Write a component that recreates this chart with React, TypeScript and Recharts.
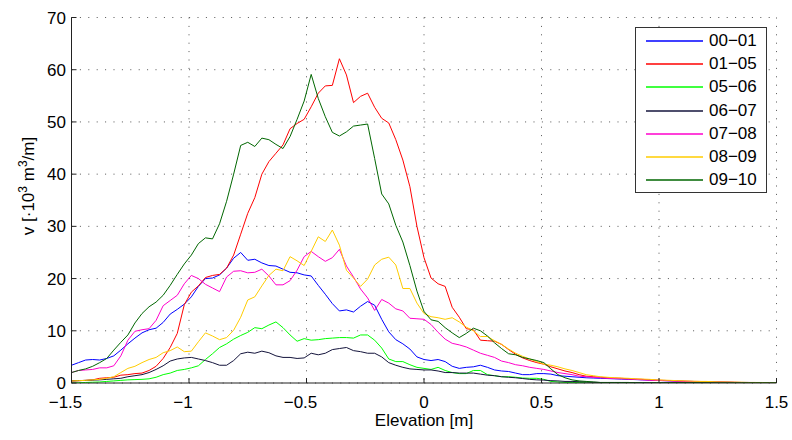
import React from 'react';
import { LineChart, Line, XAxis, YAxis, CartesianGrid, Legend } from 'recharts';

const FONT = '"Liberation Sans", Arial, Helvetica, sans-serif';

const elevation = [
  -1.5, -1.47, -1.44, -1.41, -1.38, -1.35, -1.32, -1.29, -1.26, -1.23,
  -1.2, -1.17, -1.14, -1.11, -1.08, -1.05, -1.02, -0.99, -0.96, -0.93,
  -0.9, -0.87, -0.84, -0.81, -0.78, -0.75, -0.72, -0.69, -0.66, -0.63,
  -0.6, -0.57, -0.54, -0.51, -0.48, -0.45, -0.42, -0.39, -0.36, -0.33,
  -0.3, -0.27, -0.24, -0.21, -0.18, -0.15, -0.12, -0.09, -0.06, -0.03,
  0, 0.03, 0.06, 0.09, 0.12, 0.15, 0.18, 0.21, 0.24, 0.27,
  0.3, 0.33, 0.36, 0.39, 0.42, 0.45, 0.48, 0.51, 0.54, 0.57,
  0.6, 0.63, 0.66, 0.69, 0.72, 0.75, 0.78, 0.81, 0.84, 0.87,
  0.9, 0.93, 0.96, 0.99, 1.02, 1.05, 1.08, 1.11, 1.14, 1.17,
  1.2, 1.23, 1.26, 1.29, 1.32, 1.35, 1.38, 1.41, 1.44, 1.47,
  1.5,
];

const v0001 = [
  3.4, 3.9, 4.4, 4.5, 4.4, 4.7, 5.2, 6.3, 7.5, 8.6,
  9.6, 10.2, 10.5, 11.6, 13.2, 14.1, 15.1, 16.5, 18.5, 20.0,
  20.1, 20.7, 22.0, 23.9, 25.0, 23.5, 23.7, 23.0, 22.5, 22.4,
  21.8, 21.2, 21.1, 20.7, 20.5, 18.7, 17.0, 15.2, 13.8, 14.0,
  13.6, 14.7, 15.6, 14.9, 12.2, 9.8, 8.3, 7.5, 6.5, 5.0,
  4.5, 4.3, 4.5, 4.1, 3.2, 2.8, 3.0, 3.1, 3.4, 3.0,
  2.5, 2.3, 2.2, 1.9, 1.6, 1.6, 1.8, 1.8, 1.7, 1.4,
  1.3, 1.2, 1.1, 1.0, 0.95, 0.9, 0.85, 0.8, 0.75, 0.7,
  0.65, 0.6, 0.55, 0.5, 0.45, 0.4, 0.35, 0.3, 0.3, 0.25,
  0.2, 0.2, 0.15, 0.15, 0.1, 0.1, 0.1, 0.05, 0.05, 0.05,
  0.05,
];

const v0105 = [
  0.4, 0.45, 0.5, 0.6, 0.9, 1.0, 1.1, 1.5, 1.6, 1.8,
  1.9, 2.4, 3.2, 4.7, 6.8, 9.5, 15.0, 17.4, 18.6, 20.2,
  20.6, 20.8, 22.0, 24.5, 28.5, 32.5, 35.5, 40.0, 42.4, 44.0,
  45.6, 48.7, 49.7, 50.5, 52.9, 55.5, 56.9, 57.0, 62.1, 59.0,
  53.7, 54.9, 55.5, 52.8, 50.7, 49.8, 46.6, 42.7, 37.6, 30.0,
  24.0, 20.1, 19.0, 18.5, 14.5, 12.6, 10.4, 10.2, 8.2, 8.1,
  8.0, 7.4, 6.4, 5.5, 4.8, 4.3, 3.9, 3.6, 3.1, 2.7,
  2.3, 2.0, 1.6, 1.3, 1.2, 1.1, 1.0, 0.95, 0.9, 0.8,
  0.75, 0.7, 0.6, 0.55, 0.5, 0.45, 0.4, 0.35, 0.3, 0.3,
  0.25, 0.2, 0.2, 0.15, 0.15, 0.1, 0.1, 0.1, 0.05, 0.05,
  0.05,
];

const v0506 = [
  0.0, 0.05, 0.1, 0.15, 0.2, 0.3, 0.4, 0.5, 0.6, 0.65,
  0.7, 0.8, 1.1, 1.6, 1.9, 2.4, 2.6, 2.9, 3.3, 4.5,
  5.6, 6.8, 7.5, 8.4, 9.1, 9.7, 10.6, 10.4, 11.1, 11.7,
  10.6, 9.2, 8.0, 8.5, 8.2, 8.3, 8.5, 8.6, 8.7, 8.7,
  8.6, 9.2, 9.2, 8.2, 6.7, 4.6, 4.1, 4.1, 3.5, 3.0,
  2.8, 2.6, 3.0, 2.4, 2.0, 1.8, 1.8, 2.4, 2.4, 1.6,
  1.4, 1.2, 1.2, 1.1, 0.95, 0.9, 0.9, 0.7, 0.3, 0.2,
  0.1, 0.1, 0.1, 0.05, 0.05, 0.05, 0.05, 0.05, 0.05, 0.05,
  0.05, 0.05, 0.05, 0.05, 0.05, 0.05, 0.05, 0.05, 0.05, 0.05,
  0.05, 0.05, 0.05, 0.05, 0.05, 0, 0, 0, 0, 0,
  0,
];

const v0607 = [
  0.4, 0.45, 0.5, 0.55, 0.6, 0.7, 0.8, 0.9, 1.2, 1.4,
  1.6, 2.0, 2.6, 3.3, 4.2, 4.6, 4.8, 4.9, 4.6, 4.3,
  3.9, 3.4, 3.4, 4.3, 5.6, 5.9, 5.7, 6.1, 5.8, 5.2,
  4.9, 4.9, 4.7, 4.8, 5.7, 5.4, 5.7, 6.4, 6.6, 6.8,
  6.2, 6.0, 5.7, 5.7, 5.0, 3.9, 3.4, 3.0, 2.7, 2.6,
  2.5, 2.5, 2.3, 2.0, 2.0, 1.9, 1.9, 1.9, 1.7, 1.5,
  1.4, 1.2, 1.1, 1.0, 0.85, 0.7, 0.6, 0.55, 0.45, 0.4,
  0.3, 0.3, 0.25, 0.2, 0.15, 0.1, 0.1, 0.1, 0.1, 0.1,
  0.05, 0.05, 0.05, 0.05, 0.05, 0.05, 0.05, 0.05, 0.05, 0.05,
  0.05, 0.05, 0.05, 0.05, 0.05, 0.05, 0.05, 0.05, 0.05, 0.05,
  0.05,
];

const v0708 = [
  2.0, 2.4, 2.5, 2.6, 2.9, 2.9, 3.3, 5.2, 8.2, 9.9,
  10.2, 10.4, 12.0, 14.8, 15.8, 16.8, 19.0, 20.6, 20.0, 18.9,
  18.2, 17.5, 20.3, 21.4, 21.5, 21.1, 21.2, 21.8, 20.5, 18.8,
  18.8, 19.6, 21.6, 24.2, 25.2, 24.2, 23.3, 24.0, 25.6, 22.4,
  20.3, 18.0, 16.3, 13.9, 16.0, 15.3, 14.2, 13.8, 12.4, 12.3,
  12.2, 11.2, 9.7, 8.4, 7.6, 7.3, 6.9, 6.3, 5.7, 5.3,
  4.9, 4.2, 3.9, 3.5, 3.3, 3.0, 2.8, 2.6, 2.3, 2.0,
  1.8, 1.6, 1.3, 1.2, 1.1, 1.0, 0.9, 0.85, 0.8, 0.75,
  0.7, 0.6, 0.55, 0.5, 0.45, 0.4, 0.35, 0.3, 0.3, 0.25,
  0.2, 0.2, 0.15, 0.15, 0.1, 0.1, 0.1, 0.05, 0.05, 0.05,
  0.05,
];

const v0809 = [
  0.4, 0.45, 0.5, 0.6, 0.7, 0.9, 1.2, 2.0, 2.8, 3.2,
  3.9, 4.5, 4.9, 5.8, 6.2, 6.9, 6.0, 6.1, 7.9, 9.6,
  9.0, 8.3, 8.7, 10.1, 12.6, 15.9, 16.5, 18.6, 20.6, 21.8,
  21.5, 24.2, 23.4, 22.5, 25.2, 28.0, 27.1, 29.3, 26.4, 21.6,
  20.1, 18.5, 19.9, 22.6, 23.7, 24.1, 22.6, 18.1, 18.1, 15.3,
  13.3, 12.7, 12.5, 12.2, 12.5, 11.7, 10.7, 10.0, 8.9, 8.9,
  8.1, 7.4, 6.5, 5.7, 5.1, 4.6, 4.1, 3.6, 3.4, 3.1,
  2.7, 2.4, 2.0, 1.6, 1.4, 1.2, 1.1, 1.0, 0.95, 0.9,
  0.8, 0.75, 0.7, 0.6, 0.55, 0.5, 0.45, 0.4, 0.35, 0.3,
  0.3, 0.25, 0.2, 0.2, 0.15, 0.15, 0.1, 0.1, 0.1, 0.05,
  0.05,
];

const v0910 = [
  2.0, 2.4, 2.7, 3.2, 3.9, 4.7, 6.3, 7.8, 9.2, 11.5,
  13.3, 14.6, 15.5, 16.8, 18.7, 20.8, 22.8, 24.5, 26.7, 27.8,
  27.6, 30.5, 34.8, 40.0, 45.5, 46.1, 45.3, 46.9, 46.6, 45.7,
  44.9, 47.2, 50.5, 54.0, 59.1, 54.5, 51.0, 48.0, 47.3, 48.1,
  49.2, 49.4, 49.6, 43.0, 36.2, 34.3, 30.2, 27.0, 22.5, 17.6,
  13.7, 12.1, 11.8, 10.6, 9.6, 8.7, 9.5, 10.5, 10.0, 9.0,
  7.7, 6.6, 5.6, 5.4, 4.9, 4.6, 4.3, 3.9, 2.7, 1.6,
  1.0, 0.6, 0.4, 0.3, 0.2, 0.1, 0.1, 0.1, 0.1, 0.1,
  0.05, 0.05, 0.05, 0.05, 0.05, 0.05, 0.05, 0.05, 0.05, 0.05,
  0.05, 0.05, 0.05, 0.05, 0.05, 0.05, 0.05, 0.05, 0.05, 0.05,
  0.05,
];

const seriesNames = ['00-01', '01-05', '05-06', '06-07', '07-08', '08-09', '09-10'];
const seriesValues = [v0001, v0105, v0506, v0607, v0708, v0809, v0910];
const seriesColors = ['#0000ff', '#ff0000', '#00ff00', '#14143c', '#ff00cc', '#ffcc00', '#006600'];

const xTicks = [-1.5, -1, -0.5, 0, 0.5, 1, 1.5];
const yTicks = [0, 10, 20, 30, 40, 50, 60, 70];

const data = elevation.map((x, i) => {
  const row: Record<string, number> = { x };
  seriesNames.forEach((n, s) => {
    row[n] = seriesValues[s][i];
  });
  return row;
});

const fmt = (v: number) => (v < 0 ? '\u2212' + String(Math.abs(v)) : String(v));

const XTick = (props: any) => {
  const { x, y, payload } = props;
  const v = payload.value as number;
  const neg = v < 0;
  return (
    <text x={neg ? x - 6 : x} y={y} dy="0.71em" textAnchor="middle" fontSize={17} fontFamily={FONT} fill="#000">
      {fmt(v)}
    </text>
  );
};

const YTick = (props: any) => {
  const { x, y, payload } = props;
  return (
    <text x={x} y={y} dy="0.355em" textAnchor="end" fontSize={17} fontFamily={FONT} fill="#000">
      {fmt(payload.value)}
    </text>
  );
};

const XTitle = (props: any) => {
  const vb = props.viewBox || {};
  return (
    <text x={vb.x + vb.width / 2} y={vb.y + 43} textAnchor="middle" fontSize={17} fontFamily={FONT} fill="#000">
      Elevation [m]
    </text>
  );
};

const YTitle = () => {
  const cx = 34;
  const cy = 186;
  return (
    <text
      x={cx}
      y={cy}
      transform={`rotate(-90, ${cx}, ${cy})`}
      textAnchor="middle"
      fontSize={17}
      fontFamily={FONT}
      fill="#000"
    >
      v [·10
      <tspan dy={-7} fontSize={12}>3</tspan>
      <tspan dy={7}> m</tspan>
      <tspan dy={-7} fontSize={12}>3</tspan>
      <tspan dy={7}>/m]</tspan>
    </text>
  );
};

const LegendBox = () => (
  <div
    style={{
      position: 'relative',
      width: 132,
      height: 166,
      border: '1px solid #333',
      background: '#fff',
      boxSizing: 'border-box',
      fontFamily: FONT,
      fontSize: 17,
      color: '#000',
    }}
  >
    <svg width={130} height={164} style={{ position: 'absolute', left: 0, top: 0 }}>
      {seriesNames.map((n, i) => {
        const yy = Math.round(13 + 23.2 * i);
        return (
          <line key={n} x1={10} x2={67} y1={yy} y2={yy} stroke={seriesColors[i]} strokeWidth={1.5} />
        );
      })}
    </svg>
    {seriesNames.map((n, i) => (
      <div
        key={n}
        style={{
          position: 'absolute',
          left: 73,
          top: 3 + 23.2 * i,
          height: 20,
          lineHeight: '20px',
          whiteSpace: 'nowrap',
        }}
      >
        {n.replace('-', '\u2212')}
      </div>
    ))}
  </div>
);

export default function App() {
  return (
    <div style={{ position: 'absolute', left: 0, top: 0, width: 792, height: 440, background: '#fff' }}>
      <LineChart
        width={792}
        height={440}
        data={data}
        margin={{ top: 17.5, right: 15.5, bottom: 17, left: 11.5 }}
      >
        <CartesianGrid stroke="#555" strokeDasharray="1 7.4" strokeWidth={1} />
        <XAxis
          dataKey="x"
          type="number"
          domain={[-1.5, 1.5]}
          ticks={xTicks}
          interval={0}
          allowDataOverflow
          height={40}
          axisLine={{ stroke: '#222' }}
          tickLine={{ stroke: '#222' }}
          tickSize={-5}
          tickMargin={17.5}
          tick={<XTick />}
          label={{ content: <XTitle /> }}
        />
        <YAxis
          type="number"
          domain={[0, 70]}
          ticks={yTicks}
          interval={0}
          allowDataOverflow
          width={60}
          axisLine={{ stroke: '#222' }}
          tickLine={{ stroke: '#222' }}
          tickSize={-5}
          tickMargin={10.5}
          tick={<YTick />}
          label={{ content: <YTitle /> }}
        />
        {seriesNames.map((n, i) => (
          <Line
            key={n}
            dataKey={n}
            name={n}
            type="linear"
            stroke={seriesColors[i]}
            strokeWidth={1}
            dot={false}
            activeDot={false}
            isAnimationActive={false}
          />
        ))}
        <Legend
          layout="vertical"
          align="center"
          verticalAlign="middle"
          wrapperStyle={{ position: 'absolute', left: 635, top: 27, width: 132, height: 166 }}
          content={<LegendBox />}
        />
      </LineChart>
    </div>
  );
}
